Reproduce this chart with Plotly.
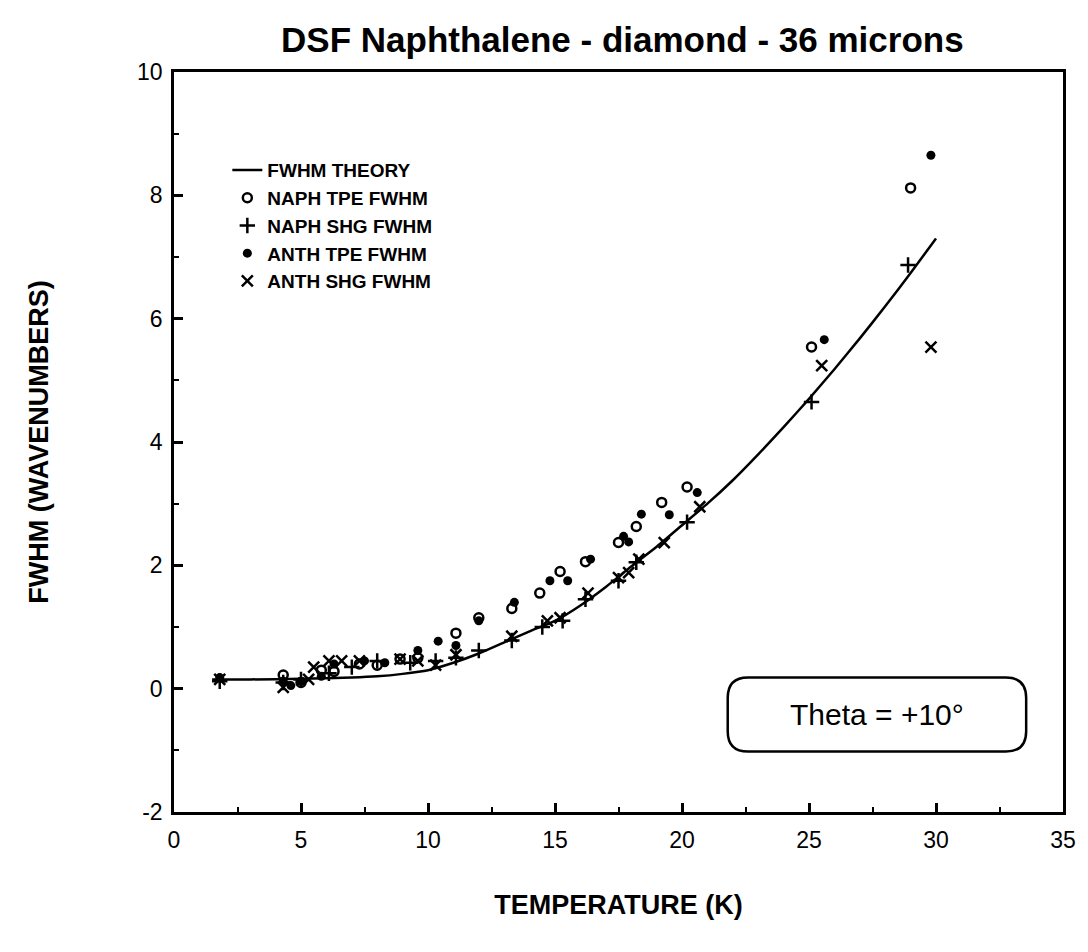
import plotly.graph_objects as go

# Theory curve
theory_T = [1.5, 3, 5, 7, 8, 9, 10, 11, 12, 13, 14, 15, 16, 17, 18, 19, 20, 21, 22, 23, 24, 25, 26, 27, 28, 29, 30]
theory_W = [0.15, 0.15, 0.16, 0.18, 0.2, 0.24, 0.3, 0.42, 0.57, 0.75, 0.93, 1.1, 1.35, 1.65, 1.98, 2.3, 2.65, 3.0, 3.38, 3.8, 4.24, 4.7, 5.18, 5.68, 6.2, 6.74, 7.3]

# NAPH TPE FWHM (open circles)
naph_tpe_T = [4.3, 5.0, 5.8, 6.3, 7.3, 8.0, 8.9, 9.6, 11.1, 12.0, 13.3, 14.4, 15.2, 16.2, 17.5, 18.2, 19.2, 20.2, 25.1, 29.0]
naph_tpe_W = [0.22, 0.1, 0.3, 0.28, 0.4, 0.38, 0.48, 0.5, 0.9, 1.15, 1.3, 1.55, 1.9, 2.06, 2.37, 2.63, 3.02, 3.27, 5.54, 8.12]

# NAPH SHG FWHM (plus)
naph_shg_T = [1.8, 4.3, 5.0, 6.1, 7.0, 8.0, 9.3, 10.3, 11.1, 12.0, 13.3, 14.5, 15.3, 16.2, 17.5, 18.2, 20.2, 25.1, 28.9]
naph_shg_W = [0.12, 0.1, 0.15, 0.25, 0.35, 0.45, 0.42, 0.45, 0.5, 0.62, 0.78, 1.0, 1.1, 1.45, 1.75, 2.05, 2.7, 4.65, 6.87]

# ANTH TPE FWHM (filled circles)
anth_tpe_T = [1.8, 4.3, 4.6, 5.0, 5.8, 6.3, 7.5, 8.3, 9.6, 10.4, 11.1, 12.0, 13.4, 14.8, 15.5, 16.4, 17.7, 17.9, 18.4, 19.5, 20.6, 25.6, 29.8]
anth_tpe_W = [0.18, 0.12, 0.05, 0.12, 0.2, 0.4, 0.45, 0.42, 0.62, 0.77, 0.7, 1.1, 1.4, 1.75, 1.75, 2.1, 2.47, 2.38, 2.83, 2.82, 3.18, 5.66, 8.65]

# ANTH SHG FWHM (x)
anth_shg_T = [1.8, 4.3, 5.3, 5.5, 6.1, 6.6, 7.3, 8.9, 9.6, 10.3, 11.1, 13.3, 14.7, 15.2, 16.3, 17.5, 17.9, 18.3, 19.3, 20.7, 25.5, 29.8]
anth_shg_W = [0.15, 0.02, 0.15, 0.35, 0.45, 0.45, 0.45, 0.48, 0.45, 0.38, 0.55, 0.85, 1.1, 1.15, 1.55, 1.8, 1.88, 2.1, 2.37, 2.95, 5.24, 5.54]

x_ticks = [0, 5, 10, 15, 20, 25, 30, 35]
y_ticks = [-2, 0, 2, 4, 6, 8, 10]

FONT = "Liberation Sans"

fig = go.Figure()
fig.add_trace(go.Scatter(x=theory_T, y=theory_W, mode="lines", name="FWHM THEORY",
                         line=dict(color="black", width=2.5, shape="spline", smoothing=0.6)))
fig.add_trace(go.Scatter(x=naph_tpe_T, y=naph_tpe_W, mode="markers", name="NAPH TPE FWHM",
                         marker=dict(symbol="circle-open", size=9, color="black", line=dict(width=2.5, color="black"))))
fig.add_trace(go.Scatter(x=naph_shg_T, y=naph_shg_W, mode="markers", name="NAPH SHG FWHM",
                         marker=dict(symbol="cross-thin-open", size=11, color="black", line=dict(width=2.5, color="black"))))
fig.add_trace(go.Scatter(x=anth_tpe_T, y=anth_tpe_W, mode="markers", name="ANTH TPE FWHM",
                         marker=dict(symbol="circle", size=9, color="black")))
fig.add_trace(go.Scatter(x=anth_shg_T, y=anth_shg_W, mode="markers", name="ANTH SHG FWHM",
                         marker=dict(symbol="x-thin-open", size=11, color="black", line=dict(width=2.5, color="black"))))

# rounded box for annotation
x0, x1, y0, y1 = 21.8, 33.55, -1.02, 0.18
rx, ry = 0.8, 0.33
path = (f"M {x0+rx},{y1} L {x1-rx},{y1} Q {x1},{y1} {x1},{y1-ry} "
        f"L {x1},{y0+ry} Q {x1},{y0} {x1-rx},{y0} L {x0+rx},{y0} "
        f"Q {x0},{y0} {x0},{y0+ry} L {x0},{y1-ry} Q {x0},{y1} {x0+rx},{y1} Z")
fig.add_shape(type="path", path=path, xref="x", yref="y", line=dict(color="black", width=2.5))
fig.add_annotation(x=(x0+x1)/2, y=(y0+y1)/2, xref="x", yref="y", text="Theta = +10°",
                   showarrow=False, font=dict(family=FONT, size=30, color="black"))

axis_common = dict(showline=True, linecolor="black", linewidth=2.5, mirror=True,
                   ticks="inside", ticklen=9, tickwidth=2.5, tickcolor="black",
                   showgrid=False, zeroline=False,
                   tickfont=dict(family=FONT, size=23, color="black"))

fig.update_layout(
    width=1088, height=952,
    margin=dict(l=174, r=18, t=72, b=140),
    paper_bgcolor="white", plot_bgcolor="white",
    title=dict(text="<b>DSF Naphthalene - diamond - 36 microns</b>", x=0.572, xanchor="center",
               y=0.958, yanchor="middle", font=dict(family=FONT, size=35, color="black")),
    xaxis=dict(range=[0, 35], tickvals=x_ticks, ticktext=[str(v) for v in x_ticks],
               ticklabelstandoff=6,
               minor=dict(dtick=2.5, tick0=0, ticks="inside", ticklen=5, tickwidth=2, tickcolor="black"),
               title=dict(text="<b>TEMPERATURE (K)</b>", standoff=43,
                          font=dict(family=FONT, size=27, color="black")),
               **axis_common),
    yaxis=dict(range=[-2, 10], tickvals=y_ticks, ticktext=[str(v) for v in y_ticks],
               ticklabelstandoff=4,
               minor=dict(dtick=1, tick0=0, ticks="inside", ticklen=5, tickwidth=2, tickcolor="black"),
               title=dict(text="<b>FWHM (WAVENUMBERS)</b>", standoff=81,
                          font=dict(family=FONT, size=27, color="black")),
               **axis_common),
    legend=dict(x=0.06, y=0.893, xanchor="left", yanchor="top", bgcolor="rgba(0,0,0,0)",
                font=dict(family=FONT, size=19, color="black", weight="bold"), tracegroupgap=0, itemwidth=30),
    showlegend=True,
)

fig.write_html("out.html")
